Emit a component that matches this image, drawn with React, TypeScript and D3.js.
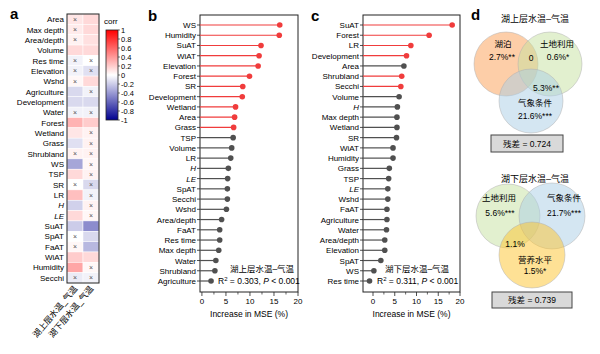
import React from "react";
import * as d3 from "d3";

// ---- panel a: correlation heatmap ----
const HEAT_ROWS = [
  "Area", "Max depth", "Area/depth", "Volume", "Res time", "Elevation", "Wshd",
  "Agriculture", "Development", "Water", "Forest", "Wetland", "Grass", "Shrubland",
  "WS", "TSP", "SR", "LR", "H", "LE", "SuAT", "SpAT", "FaAT", "WiAT", "Humidity", "Secchi",
];
const HEAT_COLS = ["湖上层水温_气温", "湖下层水温_气温"];
const HEAT_UPPER = [
  0.1, 0.08, 0.05, 0.15, -0.05, -0.05, 0.03, -0.15, -0.15, -0.05, 0.3, 0.1, -0.12, 0.05,
  -0.35, 0.15, 0.0, 0.25, -0.18, 0.15, -0.2, 0.0, 0.03, 0.2, 0.35, -0.08,
];
const HEAT_LOWER = [
  0.15, 0.15, 0.12, 0.15, 0.0, -0.12, 0.15, -0.05, -0.15, -0.05, 0.2, 0.05, 0.05, 0.05,
  0.03, 0.05, -0.15, -0.05, 0.05, 0.03, -0.45, -0.15, -0.28, 0.15, 0.03, -0.05,
];
const NS_UPPER = ["Area", "Max depth", "Area/depth", "Res time", "Elevation", "Wshd", "Water",
  "Shrubland", "SR", "SpAT", "FaAT", "Secchi"];
const NS_LOWER = ["Res time", "Elevation", "Agriculture", "Water", "Wetland", "Grass", "Shrubland",
  "WS", "TSP", "SR", "LR", "H", "LE", "Humidity", "Secchi"];
const CBAR_TICKS = [1, 0.8, 0.6, 0.4, 0.2, 0, -0.2, -0.4, -0.6, -0.8, -1];

// ---- panel b: upper-layer random forest importance ----
const B_VARS = [
  "WS", "Humidity", "SuAT", "WiAT", "Elevation", "Forest", "SR", "Development", "Wetland",
  "Area", "Grass", "TSP", "Volume", "LR", "H", "LE", "SpAT", "Secchi", "Wshd", "Area/depth",
  "FaAT", "Res time", "Max depth", "Water", "Shrubland", "Agriculture",
];
const B_VALUES = [
  16.2, 16.1, 12.3, 11.9, 11.7, 9.9, 8.5, 8.4, 7.0, 6.8, 6.6, 6.5, 6.2, 6.0, 5.5, 5.35,
  5.3, 5.3, 5.1, 4.1, 3.7, 3.7, 3.5, 2.9, 2.7, 1.9,
];
const B_SIG = ["WS", "Humidity", "SuAT", "WiAT", "Elevation", "Forest", "SR", "Development",
  "Wetland", "Area", "Grass"];

// ---- panel c: lower-layer random forest importance ----
const C_VARS = [
  "SuAT", "Forest", "LR", "Development", "Area", "Shrubland", "Secchi", "Volume", "H",
  "Max depth", "Wetland", "SR", "WiAT", "Humidity", "Grass", "TSP", "LE", "Wshd", "FaAT",
  "Agriculture", "Water", "Area/depth", "Elevation", "SpAT", "WS", "Res time",
];
const C_VALUES = [
  18.2, 12.9, 8.7, 7.7, 7.1, 6.6, 6.4, 6.0, 5.6, 5.5, 5.5, 5.4, 4.6, 4.6, 3.75, 3.6, 3.4,
  3.4, 3.2, 3.2, 3.1, 2.7, 2.7, 1.8, 0.2, -0.8,
];
const C_SIG = ["SuAT", "Forest", "LR", "Development", "Shrubland", "Secchi"];
const X_TICKS = [0, 5, 10, 15, 20];

const FONT = "'Liberation Sans', Arial, 'Noto Sans CJK SC', sans-serif";
const ITALIC = ["H", "LE"];
const RED = "#f03c3c";
const GREY = "#505050";

const corrColor = d3
  .scaleLinear<string>()
  .domain([-1, 0, 1])
  .range(["#000090", "#ffffff", "#ff0000"])
  .interpolate(d3.interpolateRgb);

function Heatmap() {
  const y = d3.scaleBand().domain(HEAT_ROWS).range([14, 283]);
  const x = d3.scaleBand().domain(HEAT_COLS).range([67, 99]);
  const cb = d3.scaleLinear().domain([-1, 1]).range([120, 30]);
  const cols = [
    { name: HEAT_COLS[0], vals: HEAT_UPPER, ns: NS_UPPER },
    { name: HEAT_COLS[1], vals: HEAT_LOWER, ns: NS_LOWER },
  ];
  return (
    <g>
      <text x={10} y={19} fontSize={15} fontWeight={700}>a</text>
      {HEAT_ROWS.map((r) => (
        <text key={r} x={64} y={(y(r) ?? 0) + y.bandwidth() / 2 + 3} fontSize={8}
          textAnchor="end" fontStyle={ITALIC.includes(r) ? "italic" : "normal"}>{r}</text>
      ))}
      {cols.map((c) =>
        HEAT_ROWS.map((r, i) => (
          <g key={c.name + r}>
            <rect x={x(c.name)} y={y(r)} width={x.bandwidth()} height={y.bandwidth()}
              fill={corrColor(c.vals[i])} stroke="#fff" strokeWidth={0.5} />
            {c.ns.includes(r) && (
              <text x={(x(c.name) ?? 0) + x.bandwidth() / 2} y={(y(r) ?? 0) + y.bandwidth() / 2 + 2.5}
                fontSize={7} textAnchor="middle" fill="#555">×</text>
            )}
          </g>
        ))
      )}
      <rect x={67} y={14} width={32} height={269} fill="none" stroke="#222" strokeWidth={1} />
      {HEAT_COLS.map((c) => (
        <text key={c} transform={`translate(${(x(c) ?? 0) + x.bandwidth() / 2 + 3},289) rotate(-50)`}
          fontSize={8.5} textAnchor="end">{c}</text>
      ))}
      {/* colour bar */}
      <defs>
        <linearGradient id="cbar" x1="0" y1="0" x2="0" y2="1">
          {CBAR_TICKS.map((t, i) => (
            <stop key={t} offset={i / (CBAR_TICKS.length - 1)} stopColor={corrColor(t)} />
          ))}
        </linearGradient>
      </defs>
      <text x={104} y={24} fontSize={8}>corr</text>
      <rect x={106} y={30} width={12} height={90} fill="url(#cbar)" stroke="#222" strokeWidth={0.8} />
      {CBAR_TICKS.map((t) => (
        <g key={t}>
          <line x1={118} x2={120} y1={cb(t)} y2={cb(t)} stroke="#222" strokeWidth={0.6} />
          <text x={121} y={cb(t) + 2.7} fontSize={7.5}>{String(t)}</text>
        </g>
      ))}
    </g>
  );
}

interface LolliProps {
  letter: string;
  vars: string[];
  values: number[];
  sig: string[];
  left: number;
  right: number;
  domain: [number, number];
  title: string;
  r2: string;
  titleX: number;
  noteX: number;
}

function Lollipop(p: LolliProps) {
  const top = 15, bottom = 292;
  const x = d3.scaleLinear().domain(p.domain).range([p.left, p.right]);
  const y = d3.scalePoint().domain(p.vars).range([25, 281]);
  const minor = d3.range(2.5, 20, 5);
  return (
    <g>
      <text x={p.left - 52} y={21} fontSize={15} fontWeight={700}>{p.letter}</text>
      <rect x={p.left} y={top} width={p.right - p.left} height={bottom - top} fill="none"
        stroke="#222" strokeWidth={1} />
      {p.vars.map((v, i) => {
        const yy = y(v) ?? 0;
        const col = p.sig.includes(v) ? RED : GREY;
        return (
          <g key={v}>
            <line x1={p.left - 3} x2={p.left} y1={yy} y2={yy} stroke="#222" strokeWidth={0.8} />
            <text x={p.left - 4} y={yy + 3} fontSize={8} textAnchor="end"
              fontStyle={ITALIC.includes(v) ? "italic" : "normal"}>{v}</text>
            <line x1={p.left} x2={x(p.values[i])} y1={yy} y2={yy} stroke={col} strokeWidth={1.2} />
            <circle cx={x(p.values[i])} cy={yy} r={2.8} fill={col} />
          </g>
        );
      })}
      {X_TICKS.map((t) => (
        <g key={t}>
          <line x1={x(t)} x2={x(t)} y1={bottom} y2={bottom + 4} stroke="#222" strokeWidth={0.8} />
          <text x={x(t)} y={bottom + 12} fontSize={8} textAnchor="middle">{t}</text>
        </g>
      ))}
      {minor.map((t) => (
        <line key={t} x1={x(t)} x2={x(t)} y1={bottom} y2={bottom + 2.5} stroke="#222" strokeWidth={0.7} />
      ))}
      <text x={(p.left + p.right) / 2} y={317} fontSize={8.5} textAnchor="middle">Increase in MSE (%)</text>
      <text x={p.titleX} y={272} fontSize={8.5} textAnchor="middle">{p.title}</text>
      <text x={p.noteX} y={284} fontSize={8.5}>
        R<tspan dy={-3} fontSize={6}>2</tspan><tspan dy={3}> = {p.r2}, </tspan>
        <tspan fontStyle="italic">P</tspan> &lt; 0.001
      </text>
    </g>
  );
}

interface Circ { cx: number; cy: number; r: number; fill: string }

function Venn({ circles, texts, title, ty, box, resid }: {
  circles: Circ[];
  texts: { t: string; x: number; y: number }[];
  title: string;
  ty: number;
  box: [number, number, number, number];
  resid: string;
}) {
  return (
    <g>
      <text x={535} y={ty} fontSize={9} textAnchor="middle">{title}</text>
      {circles.map((c, i) => (
        <circle key={i} cx={c.cx} cy={c.cy} r={c.r} fill={c.fill} fillOpacity={0.5}
          stroke="#b0b0b0" strokeWidth={0.5} />
      ))}
      {texts.map((t, i) => (
        <text key={i} x={t.x} y={t.y} fontSize={8.5} textAnchor="middle">{t.t}</text>
      ))}
      <rect x={box[0]} y={box[1]} width={box[2]} height={box[3]} fill="#d9d9d9" stroke="#444" strokeWidth={1} />
      <text x={box[0] + box[2] / 2} y={box[1] + box[3] / 2 + 3} fontSize={8.5} textAnchor="middle">{resid}</text>
    </g>
  );
}

export default function App() {
  return (
    <svg width={600} height={354} style={{ position: "absolute", left: 0, top: 0, background: "#fff" }}
      fontFamily={FONT}>
      <Heatmap />
      <Lollipop letter="b" vars={B_VARS} values={B_VALUES} sig={B_SIG} left={200} right={298}
        domain={[-0.4, 20]} title="湖上层水温–气温" r2="0.303" titleX={262} noteX={218} />
      <Lollipop letter="c" vars={C_VARS} values={C_VALUES} sig={C_SIG} left={363} right={460}
        domain={[-2.3, 20]} title="湖下层水温–气温" r2="0.311" titleX={417} noteX={377} />
      <text x={471} y={20} fontSize={15} fontWeight={700}>d</text>
      <Venn
        title="湖上层水温–气温" ty={22}
        circles={[
          { cx: 506, cy: 64, r: 32, fill: "#fb9d52" },
          { cx: 550, cy: 64, r: 32, fill: "#c5e29f" },
          { cx: 531, cy: 101, r: 32, fill: "#a9cde6" },
        ]}
        texts={[
          { t: "湖泊", x: 503, y: 47 },
          { t: "2.7%**", x: 502, y: 60 },
          { t: "土地利用", x: 557, y: 47 },
          { t: "0.6%*", x: 558, y: 60 },
          { t: "0", x: 531, y: 61 },
          { t: "5.3%**", x: 546, y: 91 },
          { t: "气象条件", x: 535, y: 106 },
          { t: "21.6%***", x: 535, y: 119 },
        ]}
        box={[491, 135, 72, 17]} resid="残差 = 0.724"
      />
      <Venn
        title="湖下层水温–气温" ty={182}
        circles={[
          { cx: 508, cy: 216, r: 32, fill: "#c5e29f" },
          { cx: 552, cy: 216, r: 33, fill: "#a9cde6" },
          { cx: 532, cy: 255, r: 33, fill: "#fdc42c" },
        ]}
        texts={[
          { t: "土地利用", x: 499, y: 201 },
          { t: "5.6%***", x: 500, y: 216 },
          { t: "气象条件", x: 564, y: 201 },
          { t: "21.7%***", x: 564, y: 216 },
          { t: "1.1%", x: 515, y: 247 },
          { t: "营养水平", x: 535, y: 263 },
          { t: "1.5%*", x: 535, y: 274 },
        ]}
        box={[492, 292, 80, 16]} resid="残差 = 0.739"
      />
    </svg>
  );
}
